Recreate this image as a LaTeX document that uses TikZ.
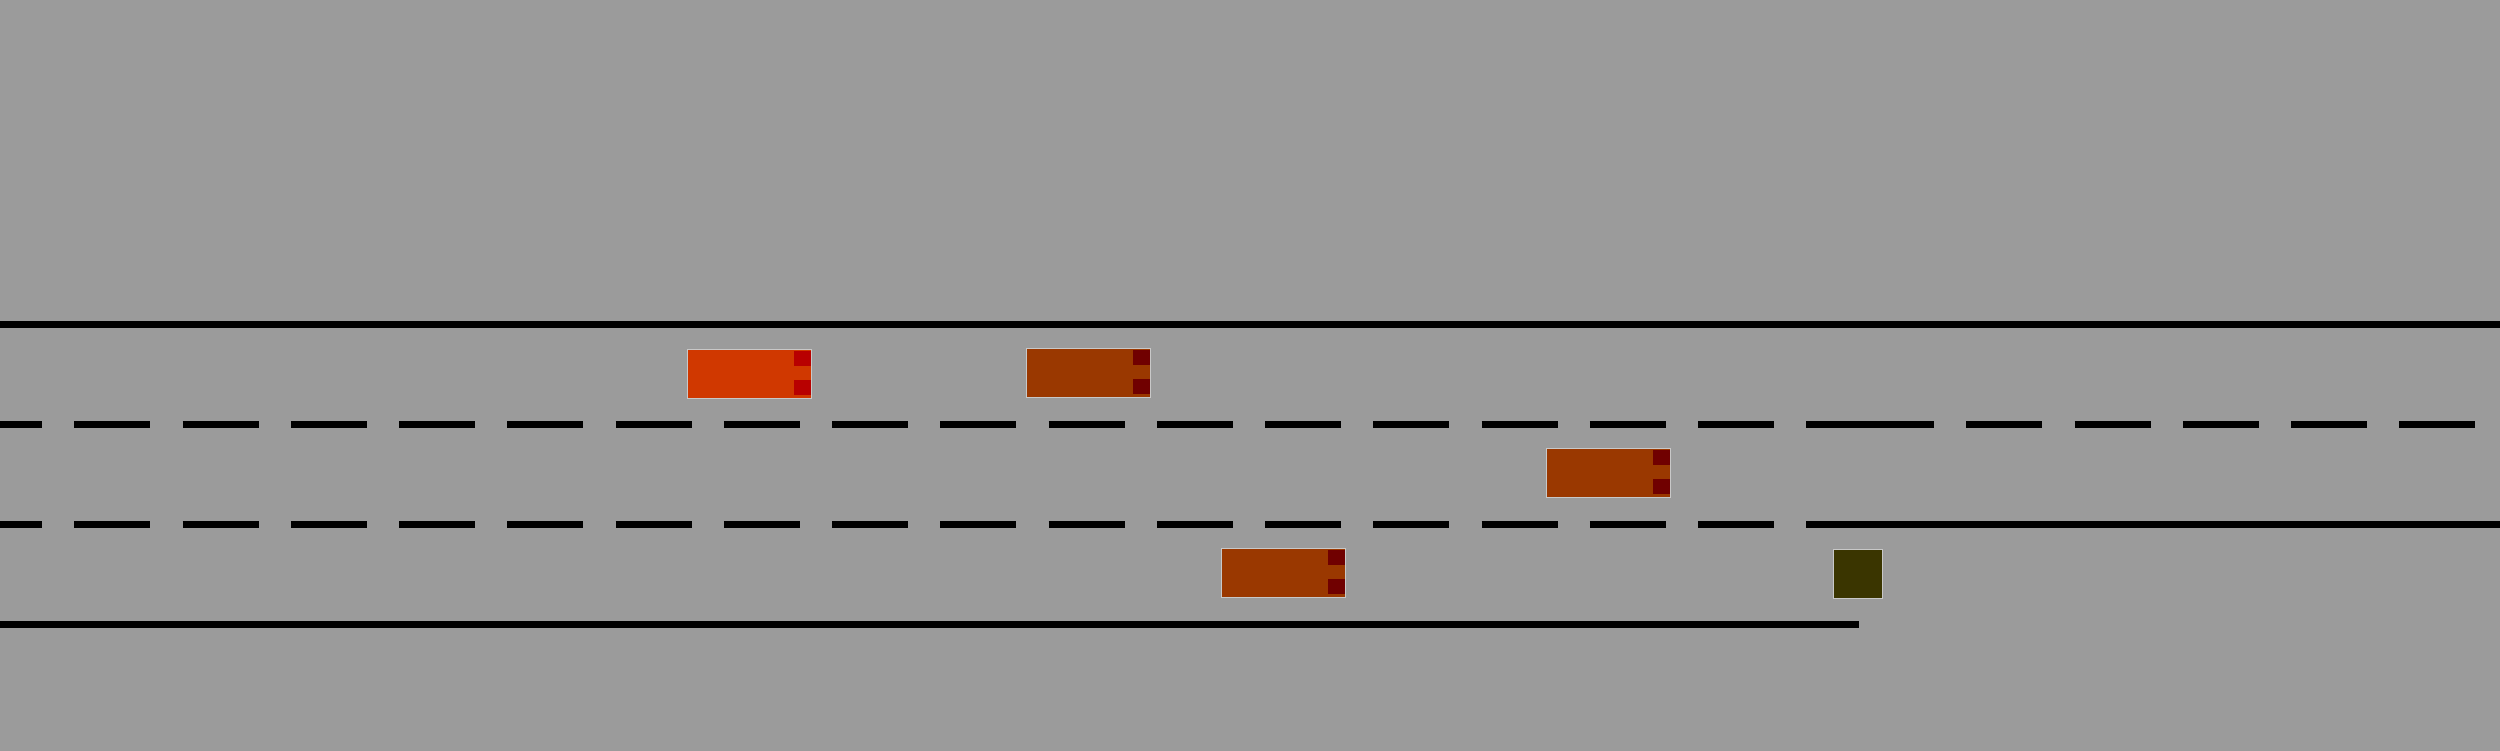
\documentclass[tikz,border=0pt]{standalone}
\definecolor{roadbg}{RGB}{155,155,155}
\definecolor{carbright}{RGB}{208,56,0}
\definecolor{lightbright}{RGB}{184,0,0}
\definecolor{cardark}{RGB}{154,56,0}
\definecolor{lightdark}{RGB}{112,0,0}
\definecolor{obstacle}{RGB}{58,53,0}
\definecolor{edgegray}{RGB}{200,200,200}
\tikzset{
  roadline/.style={line width=7pt,black},
  laneline/.style={roadline,dash pattern=on 76pt off 32.25pt},
  edgeline/.style={draw=edgegray,line width=1pt},
  pics/car/.style 2 args={code={
    \fill[#1] (0,0) rectangle (125,50);
    \fill[#2] (107,2) rectangle (124,17);
    \fill[#2] (107,31) rectangle (124,46);
    \draw[edgeline] (0.5,0.5) rectangle (124.5,49.5);
  }}
}
\begin{document}
\begin{tikzpicture}[x=1pt,y=-1pt]
\useasboundingbox (0,0) rectangle (2500,750);
\fill[roadbg] (-10,-10) rectangle (2510,760);
% road edges and lane lines
\draw[roadline] (-10,324.5) -- (2510,324.5);
\draw[laneline,dash phase=34pt] (0,424.5) -- (1858,424.5);
\draw[laneline] (1858,424.5) -- (2510,424.5);
\draw[laneline,dash phase=34pt] (0,524.5) -- (1858,524.5);
\draw[roadline] (1858,524.5) -- (2510,524.5);
\draw[roadline] (-10,624.5) -- (1859,624.5);
% vehicles
\pic (ego) at (687,349) {car={carbright}{lightbright}};
\pic (carb) at (1026,348) {car={cardark}{lightdark}};
\pic (carc) at (1546,448) {car={cardark}{lightdark}};
\pic (card) at (1221,548) {car={cardark}{lightdark}};
% obstacle
\fill[obstacle] (1833,549) rectangle (1883,599);
\draw[edgeline] (1833.5,549.5) rectangle (1882.5,598.5);
\end{tikzpicture}
\end{document}
